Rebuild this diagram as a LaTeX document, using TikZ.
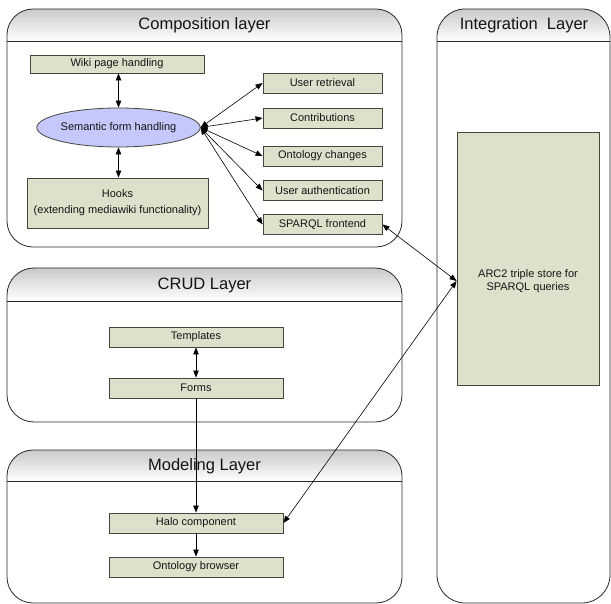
\documentclass[tikz,border=0pt]{standalone}
\usepackage{fontspec}
\setmainfont{Liberation Sans}
\usetikzlibrary{arrows.meta,shapes.geometric,calc}
\definecolor{boxfill}{RGB}{221,225,204}
\definecolor{boxline}{RGB}{70,70,62}
\definecolor{ellfill}{RGB}{196,200,250}
\definecolor{layline}{RGB}{40,40,40}
\definecolor{txt}{RGB}{20,20,20}
\begin{document}
\begin{tikzpicture}[x=1pt,y=-1pt,
  comp/.style={draw=boxline,line width=0.9pt,fill=boxfill,inner sep=0pt,
    font=\fontsize{11}{16}\selectfont,text=txt,align=center},
  ttl/.style={font=\fontsize{16.5}{19}\selectfont,text=txt,inner sep=0pt},
  ell/.style={ellipse,draw=boxline,line width=0.8pt,fill=ellfill,inner sep=0pt,
    font=\fontsize{11}{13}\selectfont,text=txt},
  tip/.style={-{Triangle[length=7pt,width=5.5pt]}},
  dtip/.style={{Triangle[length=7pt,width=5.5pt]}-{Triangle[length=7pt,width=5.5pt]}},
  con/.style={line width=0.6pt,draw=black}
]
\useasboundingbox (0,0) rectangle (611,604);
% layer frames
\newcommand{\layerframe}[6]{%
  \begin{scope}
    \clip[rounded corners=#5] (#1,#2) rectangle (#3,#4);
    \shade[top color=gray!42,bottom color=white] (#1,#2) rectangle (#3,#6);
  \end{scope}
  \draw[layline,line width=0.8pt,rounded corners=#5] (#1,#2) rectangle (#3,#4);
  \draw[layline,line width=0.8pt] (#1,#6) -- (#3,#6);
}
\layerframe{7}{9}{402}{247}{26pt}{41}
\layerframe{7}{268}{402}{422}{27pt}{301}
\layerframe{7}{450}{402}{603}{26pt}{481}
\layerframe{437}{9}{610}{603}{28pt}{41}

\node[ttl] (tcomp) at (204.5,25) {Composition layer};
\node[ttl] (tcrud) at (204.5,285) {CRUD Layer};
\node[ttl] (tmod) at (204.5,466) {Modeling Layer};
\node[ttl] (tint) at (524,25) {Integration\ \ Layer};

% composition
\node[comp,minimum width=174pt,minimum height=18pt] (wiki) at (117,64) {Wiki page handling};
\node[ell,minimum width=147pt,minimum height=39pt] (sem) at (118.5,127.5) {Semantic form handling};
\node[comp,minimum width=181pt,minimum height=50pt] (hooks) at (117.5,203) {Hooks\\(extending mediawiki functionality)};
\node[comp,minimum width=119pt,minimum height=20pt] (ur) at (322.5,83) {User retrieval};
\node[comp,minimum width=119pt,minimum height=20pt] (contr) at (322.5,118) {Contributions};
\node[comp,minimum width=119pt,minimum height=20pt] (onto) at (322.5,156) {Ontology changes};
\node[comp,minimum width=119pt,minimum height=20pt] (uauth) at (322.5,190.5) {User authentication};
\node[comp,minimum width=119pt,minimum height=20pt] (sparql) at (322.5,224.5) {SPARQL frontend};

% crud
\node[comp,minimum width=174pt,minimum height=20pt] (tmpl) at (196,337) {Templates};
\node[comp,minimum width=174pt,minimum height=20pt] (forms) at (196,388) {Forms};

% modeling
\node[comp,minimum width=174pt,minimum height=20pt] (halo) at (196,523) {Halo component};
\node[comp,minimum width=174pt,minimum height=20pt] (obrow) at (196,567) {Ontology browser};

% integration
\node[comp,minimum width=142pt,minimum height=253pt] (arc) at (528,258.5) {};
\node[font=\fontsize{11}{13}\selectfont,text=txt,align=center,inner sep=0pt] (arctxt) at (528,281) {ARC2 triple store for\\SPARQL queries};
\coordinate (arcin) at ($(arc.west)+(0,22.5)$);

% connectors
\draw[con,dtip] (wiki.south -| sem.north) -- (sem.north);
\draw[con,dtip] (sem.south) -- (sem.south |- hooks.north);
\foreach \b in {ur,contr,onto,uauth,sparql}
  \draw[con,dtip] (sem.east) -- (\b.west);
\draw[con,dtip] (tmpl.south) -- (forms.north);
\draw[con,tip] (forms.south) -- (halo.north);
\draw[con,tip] (halo.south) -- (obrow.north);
\draw[con,dtip] (sparql.east) -- (arcin);
\draw[con,dtip] (halo.east) -- (arcin);
\end{tikzpicture}
\end{document}
